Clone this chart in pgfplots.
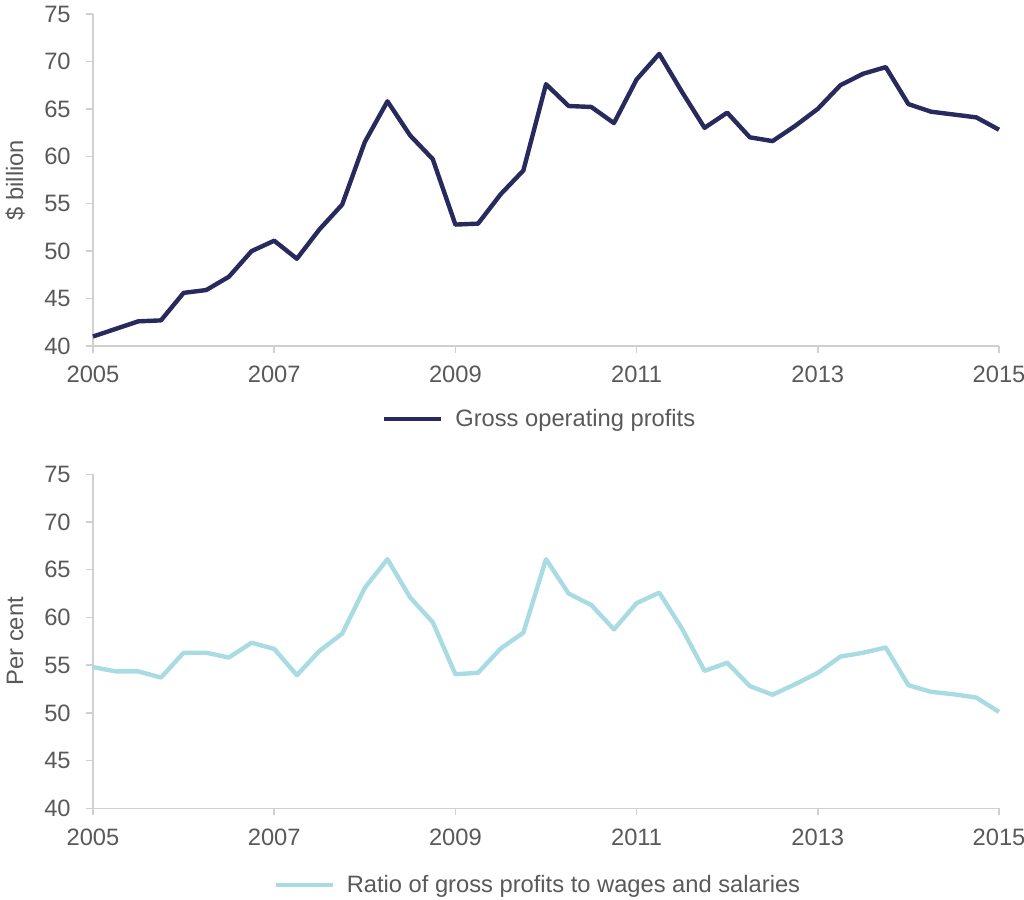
\documentclass[border=0pt]{standalone}
\usepackage{fontspec}
\setmainfont{Liberation Sans}
\usepackage{pgfplots}
\pgfplotsset{compat=1.18}
\definecolor{navy}{HTML}{282A5E}
\definecolor{lightteal}{HTML}{A9DBE3}
\definecolor{txtgray}{HTML}{595959}
\definecolor{axgray}{HTML}{D0D0D0}
\newcommand{\chartfont}{\fontsize{11.9}{13.5}\selectfont}

\pgfplotsset{
  panel/.style={
    width=453bp, height=166bp, scale only axis,
    xmin=2005, xmax=2015, ymin=40, ymax=75,
    xtick={2005,2007,...,2015}, ytick={40,45,...,75},
    axis x line*=bottom, axis y line*=left,
    axis line style={axgray, line width=0.75pt},
    tick style={axgray, line width=0.75pt},
    tick align=outside, major tick length=3.5bp,
    /pgf/number format/1000 sep={},
    /pgf/number format/assume math mode=true,
    ticklabel style={font=\chartfont, text=txtgray, inner sep=0pt},
    yticklabel style={xshift=-7.5bp},
    xticklabel style={yshift=-6.5bp},
    every axis y label/.style={at={(axis description cs:-0.086,0.5)},
      rotate=90, anchor=center, font=\chartfont, text=txtgray},
    legend style={draw=none, fill=none, font=\chartfont, text=txtgray,
      anchor=center, inner sep=0pt},
    legend cell align=left,
    legend image code/.code={\draw[##1] (0bp,0bp) -- (28.5bp,0bp);
      \path (32.5bp,0bp);},
    clip=false,
  }
}

\begin{document}
\begin{tikzpicture}
\useasboundingbox (-46.5bp,-277bp) rectangle (465.5bp,173bp);

\begin{axis}[panel, at={(0,0)}, anchor=south west,
  ylabel={\$ billion},
  legend style={at={(axis description cs:0.494,-0.22)}}]
\addplot[navy, line width=2.2bp, line join=round] coordinates {
  (2005.00,41.0) (2005.25,41.8) (2005.50,42.6) (2005.75,42.7)
  (2006.00,45.6) (2006.25,45.9) (2006.50,47.3) (2006.75,50.0)
  (2007.00,51.1) (2007.25,49.2) (2007.50,52.3) (2007.75,54.9)
  (2008.00,61.5) (2008.25,65.8) (2008.50,62.2) (2008.75,59.7)
  (2009.00,52.8) (2009.25,52.9) (2009.50,56.0) (2009.75,58.5)
  (2010.00,67.6) (2010.25,65.3) (2010.50,65.2) (2010.75,63.5)
  (2011.00,68.1) (2011.25,70.8) (2011.50,66.8) (2011.75,63.0)
  (2012.00,64.6) (2012.25,62.0) (2012.50,61.6) (2012.75,63.2)
  (2013.00,65.0) (2013.25,67.5) (2013.50,68.7) (2013.75,69.4)
  (2014.00,65.5) (2014.25,64.7) (2014.50,64.4) (2014.75,64.1)
  (2015.00,62.8)
};
\legend{Gross operating profits}
\end{axis}

\begin{axis}[panel, at={(0,-231.15bp)}, anchor=south west, height=167bp,
  ylabel={Per cent},
  legend style={at={(axis description cs:0.492,-0.23)}}]
\addplot[lightteal, line width=2.2bp, line join=round] coordinates {
  (2005.00,54.8) (2005.25,54.35) (2005.50,54.35) (2005.75,53.7)
  (2006.00,56.3) (2006.25,56.3) (2006.50,55.8) (2006.75,57.35)
  (2007.00,56.7) (2007.25,53.95) (2007.50,56.5) (2007.75,58.3)
  (2008.00,63.1) (2008.25,66.1) (2008.50,62.1) (2008.75,59.5)
  (2009.00,54.05) (2009.25,54.2) (2009.50,56.75) (2009.75,58.4)
  (2010.00,66.1) (2010.25,62.5) (2010.50,61.3) (2010.75,58.75)
  (2011.00,61.5) (2011.25,62.6) (2011.50,58.85) (2011.75,54.4)
  (2012.00,55.25) (2012.25,52.8) (2012.50,51.9) (2012.75,53.0)
  (2013.00,54.2) (2013.25,55.9) (2013.50,56.3) (2013.75,56.85)
  (2014.00,52.9) (2014.25,52.2) (2014.50,51.95) (2014.75,51.6)
  (2015.00,50.1)
};
\legend{Ratio of gross profits to wages and salaries}
\end{axis}
\end{tikzpicture}
\end{document}
